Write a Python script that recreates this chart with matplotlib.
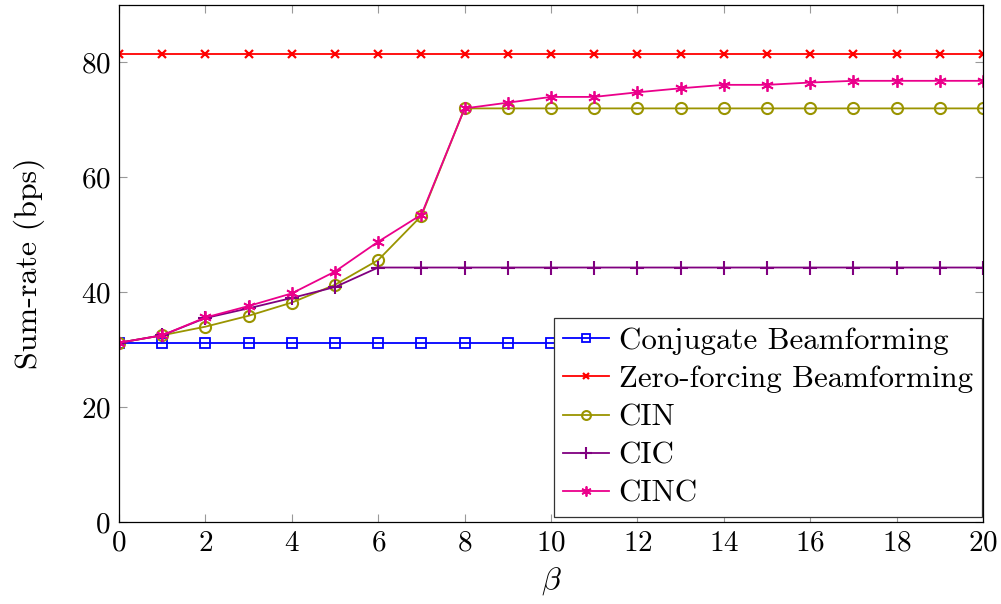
import numpy as np
import matplotlib
matplotlib.use('Agg')
import matplotlib.pyplot as plt

plt.rcParams['font.family'] = 'cmr10'
plt.rcParams['mathtext.fontset'] = 'cm'
plt.rcParams['axes.formatter.use_mathtext'] = True

#%% data
beta = np.arange(0, 21)
conj_bf = [31.1] * 21
zf_bf = [81.4] * 21
cin = [31.2, 32.5, 34.0, 35.9, 38.2, 41.3, 45.6, 53.3, 72.0,
       72.0, 72.0, 72.0, 72.0, 72.0, 72.0, 72.0, 72.0, 72.0, 72.0, 72.0, 72.0]
cic = [31.2, 32.5, 35.5, 37.2, 39.0, 40.9, 44.3, 44.3, 44.3,
       44.3, 44.3, 44.3, 44.3, 44.3, 44.3, 44.3, 44.3, 44.3, 44.3, 44.3, 44.3]
cinc = [31.2, 32.5, 35.6, 37.6, 39.8, 43.6, 48.8, 53.5, 72.0,
        73.0, 74.0, 74.0, 74.8, 75.5, 76.1, 76.1, 76.5, 76.8, 76.8, 76.8, 76.8]
labels = ['Conjugate Beamforming', 'Zero-forcing Beamforming', 'CIN', 'CIC', 'CINC']

#%% plot
fig = plt.figure(figsize=(10.01, 6.04), dpi=100)
ax = fig.add_axes([119/1001, 1-522/604, (983-119)/1001, (522-5)/604])

lw = 1.3
ax.plot(beta, conj_bf, color='#0000ff', marker='s', ms=7.5, mfc='none', mew=1.3, lw=lw, label=labels[0])
ax.plot(beta, zf_bf, color='#ff0000', marker='x', ms=6, mew=1.6, lw=lw, label=labels[1])
ax.plot(beta, cin, color='#9a9400', marker='o', ms=8, mfc='none', mew=1.5, lw=lw, label=labels[2])
ax.plot(beta, cic, color='#800080', marker='+', ms=10, mew=1.5, lw=lw, label=labels[3])
ax.plot(beta, cinc, color='#eb008b', marker=(6, 2, 0), ms=9, mew=1.3, lw=lw, label=labels[4])

ax.set_xlim(0, 20)
ax.set_ylim(0, 90)
ax.set_xticks(np.arange(0, 21, 2))
ax.set_yticks(np.arange(0, 81, 20))
ax.tick_params(direction='in', top=True, right=True, length=6, width=0.8,
               color='#999999', labelsize=21, pad=6)
for s in ax.spines.values():
    s.set_linewidth(0.9)
ax.set_xlabel(r'$\beta$', fontsize=23, labelpad=6)
ax.set_ylabel('Sum-rate (bps)', fontsize=23, labelpad=26)

leg = ax.legend(loc='lower right', bbox_to_anchor=(1 - 1/864, 5/517),
                fontsize=22.3, frameon=True, fancybox=False,
                edgecolor='#333333', framealpha=1, borderaxespad=0,
                handlelength=1.5, handletextpad=0.3, labelspacing=0.33,
                borderpad=0.3, markerscale=0.8)
leg.get_frame().set_linewidth(0.9)

plt.savefig('out.png', dpi=100)
